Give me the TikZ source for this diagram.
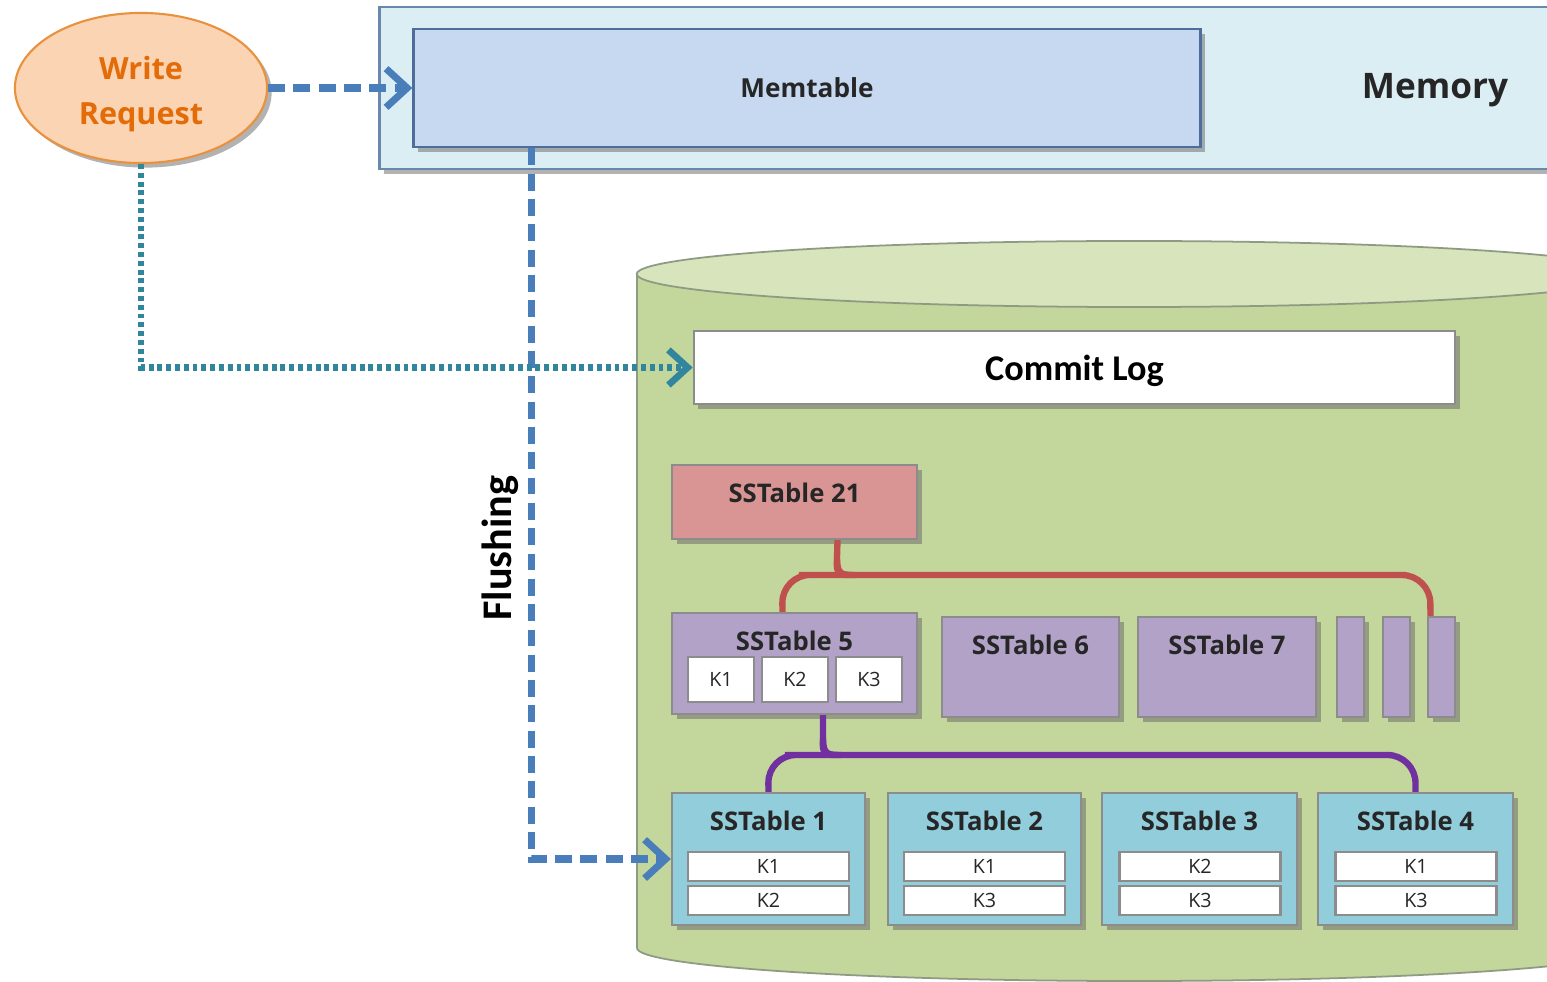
\documentclass[tikz,border=0pt]{standalone}
\usepackage{fontspec}
\setmainfont{Open Sans}
\newfontfamily\calib{Carlito}
\usepackage{tikz}
\usetikzlibrary{shapes.geometric}
\usetikzlibrary{calc}
\usetikzlibrary{shadows}
\usetikzlibrary{arrows.meta}
\usetikzlibrary{positioning}

\definecolor{memfill}{HTML}{DBEEF4}
\definecolor{memdraw}{HTML}{6A87AE}
\definecolor{tabfill}{HTML}{C6D9F1}
\definecolor{tabdraw}{HTML}{4F6D9A}
\definecolor{reqfill}{HTML}{FBD4B4}
\definecolor{reqdraw}{HTML}{E8913F}
\definecolor{reqtext}{HTML}{E36C09}
\definecolor{flushblue}{HTML}{4A7EBB}
\definecolor{logteal}{HTML}{31859C}
\definecolor{diskfill}{HTML}{C3D69B}
\definecolor{disktop}{HTML}{D8E4BC}
\definecolor{diskdraw}{HTML}{8E9A82}
\definecolor{redfill}{HTML}{D99594}
\definecolor{redline}{HTML}{C0504D}
\definecolor{purfill}{HTML}{B2A2C7}
\definecolor{purline}{HTML}{7030A0}
\definecolor{bluefill}{HTML}{92CDDC}
\definecolor{boxdraw}{HTML}{8C8C8C}
\definecolor{titletext}{HTML}{262626}

\tikzset{boxshadow/.style={drop shadow={shadow xshift=1.3pt,shadow yshift=-1.3pt,opacity=0.5,fill=black!60}}}
\tikzset{tablebox/.style={draw=boxdraw, line width=0.6pt, boxshadow, inner sep=0pt}}
\tikzset{sttitle/.style={font=\bfseries\fontsize{7.3}{8}\selectfont, text=titletext, inner sep=0pt}}
\tikzset{keybox/.style={draw=boxdraw, fill=white, line width=0.6pt, inner sep=0pt, font=\fontsize{5.6}{6}\selectfont, text=titletext}}
\tikzset{flush/.style={draw=flushblue, line width=2pt, dash pattern=on 4.8pt off 2.4pt, -{Straight Barb[length=6pt,width=11pt]}}}
\tikzset{logline/.style={draw=logteal, line width=1.9pt, dash pattern=on 1.4pt off 1.1pt, -{Straight Barb[length=5.5pt,width=10pt]}}}
\tikzset{brace/.style={line width=1.8pt}}

\begin{document}
\begin{tikzpicture}[x=0.01cm,y=-0.01cm]
		\clip (0,0) rectangle (1547,982);
		% memory
		\node[draw=memdraw, fill=memfill, line width=0.8pt, boxshadow, minimum width=11.8cm, minimum height=1.62cm] (memory) at (970,88) {};
		\node[font=\bfseries\fontsize{10}{12}\selectfont, text=titletext] (memlabel) at (1435,90) {Memory};
		\node[draw=tabdraw, fill=tabfill, line width=0.8pt, boxshadow, minimum width=7.86cm, minimum height=1.18cm, font=\bfseries\fontsize{7.45}{9}\selectfont, text=titletext] (memtable) at (807,88) {Memtable};
		\node[ellipse, draw=reqdraw, fill=reqfill, line width=0.6pt, boxshadow, inner sep=0pt, minimum width=2.52cm, minimum height=1.5cm, align=center, font=\bfseries\fontsize{8.7}{12.8}\selectfont, text=reqtext] (req) at (141,88) {\rule{0pt}{10pt}Write\\Request};

		% disk
		\path[fill=diskfill, draw=diskdraw, line width=0.5pt] (637,274) -- (637,948) arc[start angle=180, end angle=360, x radius=4.97cm, y radius=0.33cm] -- (1631,274) -- cycle;
		\path[fill=disktop, draw=diskdraw, line width=0.5pt] (1134,274) ellipse [x radius=4.97cm, y radius=0.33cm];
		\node[tablebox, fill=white, minimum width=7.61cm, minimum height=0.73cm, text depth=0pt, font=\calib\bfseries\fontsize{10.3}{12}\selectfont, text=black] (commit) at (1074.5,367.5) {Commit Log};

		% level 2
		\node[tablebox, fill=redfill, minimum width=2.45cm, minimum height=0.74cm] (sst21) at (794.5,502) {};
		\node[sttitle] (t21) at (794.5,493) {SSTable 21};

		% level 1
		\node[tablebox, fill=purfill, minimum width=2.45cm, minimum height=1.01cm] (sst5) at (794.5,663.5) {};
		\node[sttitle] (t5) at (794.5,641) {SSTable 5};
		\node[keybox, minimum width=0.66cm, minimum height=0.45cm] (k51) at (721,679.5) {K1};
		\node[keybox, minimum width=0.66cm, minimum height=0.45cm] (k52) at (795,679.5) {K2};
		\node[keybox, minimum width=0.66cm, minimum height=0.45cm] (k53) at (869,679.5) {K3};
		\node[tablebox, fill=purfill, minimum width=1.77cm, minimum height=1.0cm] (sst6) at (1030.5,667) {};
		\node[sttitle] (t6) at (1030.5,645) {SSTable 6};
		\node[tablebox, fill=purfill, minimum width=1.78cm, minimum height=1.0cm] (sst7) at (1227,667) {};
		\node[sttitle] (t7) at (1227,645) {SSTable 7};
		\node[tablebox, fill=purfill, minimum width=0.27cm, minimum height=1.0cm] (sm1) at (1350.5,667) {};
		\node[tablebox, fill=purfill, minimum width=0.27cm, minimum height=1.0cm] (sm2) at (1396.5,667) {};
		\node[tablebox, fill=purfill, minimum width=0.27cm, minimum height=1.0cm] (sm3) at (1441.5,667) {};

		% level 0
		\node[tablebox, fill=bluefill, minimum width=1.93cm, minimum height=1.32cm] (sst1) at (768.5,859) {};
		\node[sttitle] (t1) at (768.5,821) {SSTable 1};
		\node[keybox, minimum width=1.61cm, minimum height=0.29cm] (k11) at (768.5,866.5) {K1};
		\node[keybox, minimum width=1.61cm, minimum height=0.29cm] (k12) at (768.5,900.5) {K2};
		\node[tablebox, fill=bluefill, minimum width=1.93cm, minimum height=1.32cm] (sst2) at (984.5,859) {};
		\node[sttitle] (t2) at (984.5,821) {SSTable 2};
		\node[keybox, minimum width=1.61cm, minimum height=0.29cm] (k21) at (984.5,866.5) {K1};
		\node[keybox, minimum width=1.61cm, minimum height=0.29cm] (k22) at (984.5,900.5) {K3};
		\node[tablebox, fill=bluefill, minimum width=1.95cm, minimum height=1.32cm] (sst3) at (1199.5,859) {};
		\node[sttitle] (t3) at (1199.5,821) {SSTable 3};
		\node[keybox, minimum width=1.61cm, minimum height=0.29cm] (k31) at (1200,866.5) {K2};
		\node[keybox, minimum width=1.61cm, minimum height=0.29cm] (k32) at (1200,900.5) {K3};
		\node[tablebox, fill=bluefill, minimum width=1.95cm, minimum height=1.32cm] (sst4) at (1415.5,859) {};
		\node[sttitle] (t4) at (1415.5,821) {SSTable 4};
		\node[keybox, minimum width=1.61cm, minimum height=0.29cm] (k41) at (1416,866.5) {K1};
		\node[keybox, minimum width=1.61cm, minimum height=0.29cm] (k42) at (1416,900.5) {K3};

		% compaction braces
		\draw[brace, draw=redline] ([xshift=-0.12cm]sst5.north) [rounded corners=8pt] -- (782,575) -- (827,575) [sharp corners] .. controls (834,575) and (837,570) .. (837,558) -- ([xshift=0.43cm]sst21.south);
		\draw[brace, draw=redline] (837,558) .. controls (837,570) and (840,575) .. (847,575) [rounded corners=8pt] -- (1430,575) -- ([xshift=-0.11cm]sm3.north);
		\draw[brace, draw=purline] (sst1.north) [rounded corners=8pt] -- (768,755) -- (813,755) [sharp corners] .. controls (820,755) and (823,750) .. (823,738) -- ([xshift=0.285cm]sst5.south);
		\draw[brace, draw=purline] (823,738) .. controls (823,750) and (826,755) .. (833,755) [rounded corners=8pt] -- (1415.5,755) -- (sst4.north);

		% writes
		\draw[flush] (req.east) -- (memtable.west);
		\draw[flush] ([xshift=1.19cm]memtable.south west) |- (sst1.west);
		\draw[logline] (req.south) |- (commit.west);
		\node[rotate=90, font=\calib\bfseries\fontsize{12}{14}\selectfont, text=black] (flushlabel) at (500,548) {Flushing};
	\end{tikzpicture}
\end{document}
